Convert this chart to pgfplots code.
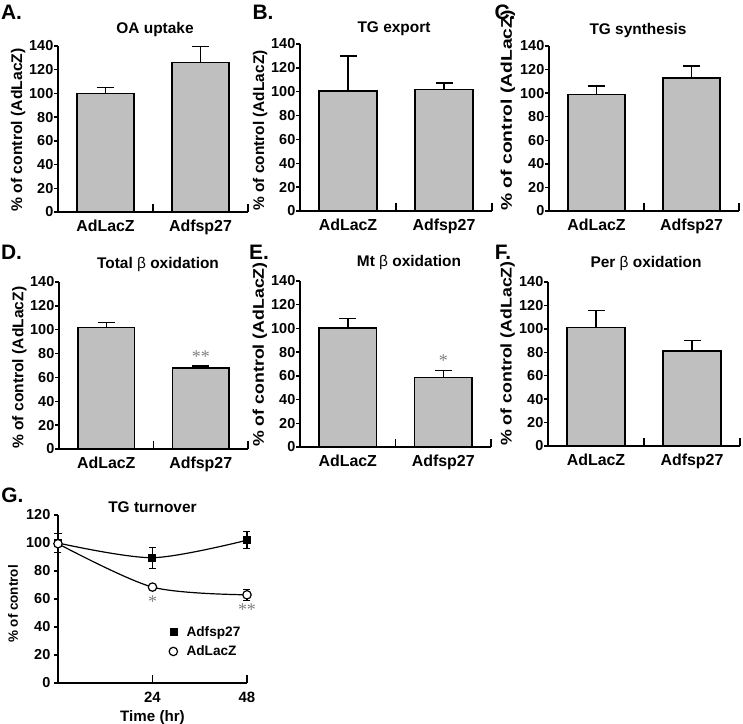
\documentclass[border=0pt]{standalone}
\usepackage{fontspec}
\setmainfont{Liberation Sans}
\newfontfamily\starfont{Liberation Serif}
\usepackage{pgfplots}
\pgfplotsset{compat=1.18}

\newcommand\fs[1]{\fontsize{#1}{#1}\selectfont\bfseries}
\newcommand\stars[1]{{\starfont\fontsize{18}{18}\selectfont #1}}

\pgfplotsset{
  panel/.style={
    scale only axis, anchor=south west,
    axis x line=bottom, axis y line=left,
    axis line style={-, line width=1.5bp},
    tick align=outside, major tick length=4bp,
    tick style={line width=1.5bp, black},
    xtick style={draw=none},
    extra x tick labels={},
    extra x tick style={tick align=inside, major tick length=8bp, xtick style={draw=black}},
    yticklabel style={font=\fs{14.5}, inner xsep=0.5bp},
    xticklabel style={font=\fs{16}},
    title style={font=\fs{15.5}, anchor=center},
    ylabel style={font=\fs{15.5}, inner sep=0pt},
    /pgf/number format/assume math mode=true,
  },
  barpanel/.style={
    panel,
    ymin=0, ymax=140, ytick={0,20,...,140},
    xmin=-0.5, xmax=1.5, xtick={0,1}, xticklabels={AdLacZ,Adfsp27},
    extra x ticks={0.5,1.5},
  },
  bars/.style={
    ybar, bar width=0.6, fill=black!25, draw=black, line width=1.5bp,
    error bars/.cd, y dir=plus, y explicit,
    error bar style={line width=1.5bp, black},
    error mark options={rotate=90, line width=1.5bp, mark size=8.5bp, black},
  },
}
% y label with a stretch factor for its text
\newcommand\ylab[1]{\scalebox{#1}[1]{\% of control (AdLacZ)}}

\begin{document}
\begin{tikzpicture}
\useasboundingbox (0,0) rectangle (743bp,724bp);

% panel letters
\node[font=\fs{21}] at (11.5bp,712bp) {A.};
\node[font=\fs{21}] at (263bp,712bp) {B.};
\node[font=\fs{21}] at (505bp,712bp) {C.};
\node[font=\fs{21}] at (11.5bp,472bp) {D.};
\node[font=\fs{21}] at (259bp,472bp) {E.};
\node[font=\fs{21}] at (503bp,472bp) {F.};
\node[font=\fs{21}] at (12.5bp,229bp) {G.};

% A
\begin{axis}[barpanel, at={(58bp,512bp)}, width=190bp, height=166bp,
  title={OA uptake}, title style={xshift=2bp, yshift=10.5bp},
  ylabel={\ylab{1.02}}, ylabel style={at={(axis description cs:-0.21,0)}, anchor=west}]
\addplot[bars] coordinates {(0,100) +- (0,5) (1,126) +- (0,13.5)};
\end{axis}

% B
\begin{axis}[barpanel, at={(300bp,513bp)}, width=192bp, height=167bp,
  title={TG export}, title style={xshift=-2bp, yshift=9bp},
  ylabel={\ylab{1.0}}, ylabel style={at={(axis description cs:-0.208,0)}, anchor=west}]
\addplot[bars] coordinates {(0,100.5) +- (0,29.5) (1,102) +- (0,5.5)};
\end{axis}

% C
\begin{axis}[barpanel, at={(549bp,513bp)}, width=190bp, height=165bp,
  title={TG synthesis}, title style={xshift=-6bp, yshift=9.7bp},
  ylabel={\ylab{1.25}}, ylabel style={at={(axis description cs:-0.216,0)}, anchor=west}]
\addplot[bars] coordinates {(0,99) +- (0,7) (1,113) +- (0,10)};
\end{axis}

% D
\begin{axis}[barpanel, at={(59bp,275bp)}, width=189bp, height=167bp,
  title={Total {\mdseries β} oxidation}, title style={xshift=4.5bp, yshift=11.8bp},
  ylabel={\ylab{1.01}}, ylabel style={at={(axis description cs:-0.21,0)}, anchor=west}]
\addplot[bars] coordinates {(0,102) +- (0,4) (1,68) +- (0,1.5)};
\node[text=black!50] at (axis cs:1,77.5) {\stars{**}};
\end{axis}

% E
\begin{axis}[barpanel, at={(300bp,277bp)}, width=191bp, height=166bp,
  title={Mt {\mdseries β} oxidation}, title style={xshift=13.5bp, yshift=12.7bp},
  ylabel={\ylab{1.15}}, ylabel style={at={(axis description cs:-0.21,0)}, anchor=west}]
\addplot[bars] coordinates {(0,100.5) +- (0,8) (1,58.5) +- (0,6)};
\node[text=black!50] at (axis cs:1,72.5) {\stars{*}};
\end{axis}

% F
\begin{axis}[barpanel, at={(548bp,278bp)}, width=192bp, height=164bp,
  title={Per {\mdseries β} oxidation}, title style={xshift=2bp, yshift=12.7bp},
  ylabel={\ylab{1.15}}, ylabel style={at={(axis description cs:-0.21,0)}, anchor=west}]
\addplot[bars] coordinates {(0,101) +- (0,14.5) (1,81) +- (0,9)};
\end{axis}

% G
\begin{axis}[panel, at={(58bp,41bp)}, width=189bp, height=168bp, clip=false,
  xmin=0, xmax=48, ymin=0, ymax=120, xtick={24,48}, ytick={0,20,...,120},
  extra x ticks={24,48},
  xticklabel style={font=\fs{15}, yshift=-2bp},
  yticklabel style={xshift=-3bp},
  title={TG turnover}, title style={yshift=1.5bp},
  xlabel={Time (hr)}, xlabel style={font=\fs{15.2}, yshift=3bp},
  ylabel={\% of control}, ylabel style={font=\fs{13.5}, at={(axis description cs:-0.238,0.47)}, anchor=center},
  legend style={at={(axis description cs:0.587,0.35)}, anchor=north west, draw=none, fill=none,
    font=\fs{13.7}, row sep=4bp, column sep=7bp, inner sep=0pt},
  legend cell align=left]
\addplot[black, smooth, line width=1.2bp, mark=square*, mark size=3.4bp, forget plot,
  error bars/.cd, y dir=both, y explicit,
  error bar style={line width=1.2bp, black},
  error mark options={rotate=90, line width=1.2bp, mark size=3.5bp, black}]
  coordinates {(0,100) +- (0,7) (24,89.5) +- (0,7.5) (48,102) +- (0,6)};
\addplot[black, smooth, line width=1.2bp, mark=*, mark size=4.2bp,
  mark options={fill=white, line width=1.2bp}, forget plot,
  error bars/.cd, y dir=both, y explicit,
  error bar style={line width=1.2bp, black},
  error mark options={rotate=90, line width=1.2bp, mark size=3.5bp, black}]
  coordinates {(0,99.5) +- (0,1) (24,68.5) +- (0,1) (48,63) +- (0,4)};
\addlegendimage{only marks, mark=square*, mark size=3.4bp, black}
\addlegendentry{Adfsp27}
\addlegendimage{only marks, mark=*, mark size=4.2bp, black, mark options={fill=white, line width=1.2bp}}
\addlegendentry{AdLacZ}
\node[text=black!50] at (axis cs:24,58) {\stars{*}};
\node[text=black!50] at (axis cs:48,52.5) {\stars{**}};
\end{axis}
\end{tikzpicture}
\end{document}
